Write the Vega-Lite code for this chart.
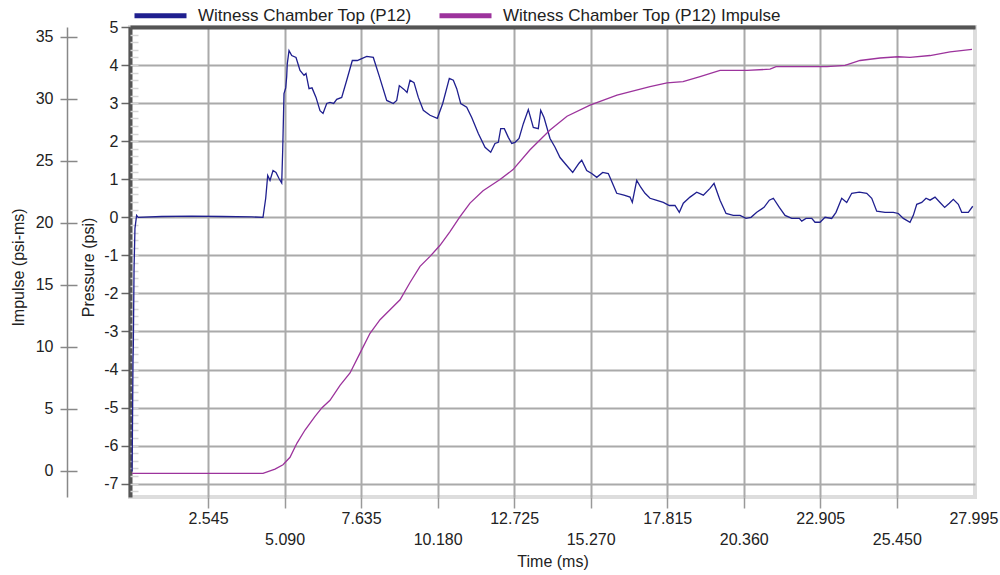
{
  "$schema": "https://vega.github.io/schema/vega-lite/v6.json",
  "width": 845,
  "height": 470,
  "autosize": {"type": "none"},
  "padding": {"left": 130, "top": 27, "right": 25, "bottom": 78},
  "background": "white",
  "config": {
    "font": "Liberation Sans",
    "view": {"stroke": "#dddddd", "strokeWidth": 4},
    "axis": {"labelFont": "Liberation Sans", "titleFont": "Liberation Sans", "labelFontSize": 16, "titleFontSize": 16, "titleFontWeight": "normal", "labelColor": "#222222", "titleColor": "#222222"}
  },
  "datasets": {
    "pressure": [
      {"t": 0.02, "p": -6.68}, {"t": 0.05, "p": -3.75}, {"t": 0.06, "p": -3.4}, {"t": 0.085, "p": -1.34}, {"t": 0.115, "p": -0.29}, {"t": 0.17, "p": 0.05}, {"t": 0.22, "p": 0.0},
      {"t": 1.0, "p": 0.02}, {"t": 2.0, "p": 0.03}, {"t": 3.0, "p": 0.02}, {"t": 4.0, "p": 0.01}, {"t": 4.373, "p": 0.0},
      {"t": 4.463, "p": 0.5}, {"t": 4.529, "p": 1.1}, {"t": 4.606, "p": 0.97}, {"t": 4.706, "p": 1.23}, {"t": 4.805, "p": 1.18}, {"t": 4.905, "p": 1.02}, {"t": 4.995, "p": 0.9},
      {"t": 5.028, "p": 1.76}, {"t": 5.071, "p": 3.25}, {"t": 5.128, "p": 3.4}, {"t": 5.161, "p": 3.7}, {"t": 5.18, "p": 4.03}, {"t": 5.238, "p": 4.38}, {"t": 5.328, "p": 4.25},
      {"t": 5.471, "p": 4.2}, {"t": 5.604, "p": 3.86}, {"t": 5.737, "p": 3.73}, {"t": 5.803, "p": 3.78}, {"t": 5.903, "p": 3.38}, {"t": 6.003, "p": 3.4}, {"t": 6.136, "p": 3.15},
      {"t": 6.269, "p": 2.8}, {"t": 6.369, "p": 2.73}, {"t": 6.492, "p": 2.99}, {"t": 6.601, "p": 3.02}, {"t": 6.724, "p": 2.99}, {"t": 6.824, "p": 3.1}, {"t": 6.99, "p": 3.15},
      {"t": 7.157, "p": 3.6}, {"t": 7.343, "p": 4.12}, {"t": 7.509, "p": 4.12}, {"t": 7.655, "p": 4.17}, {"t": 7.822, "p": 4.23}, {"t": 8.041, "p": 4.2}, {"t": 8.231, "p": 3.73},
      {"t": 8.487, "p": 3.07}, {"t": 8.706, "p": 2.99}, {"t": 8.819, "p": 3.07}, {"t": 8.906, "p": 3.46}, {"t": 9.062, "p": 3.36}, {"t": 9.162, "p": 3.28}, {"t": 9.262, "p": 3.6},
      {"t": 9.395, "p": 3.54}, {"t": 9.538, "p": 3.15}, {"t": 9.704, "p": 2.81}, {"t": 9.927, "p": 2.68}, {"t": 10.17, "p": 2.6}, {"t": 10.349, "p": 2.99}, {"t": 10.569, "p": 3.65},
      {"t": 10.702, "p": 3.6}, {"t": 10.815, "p": 3.38}, {"t": 10.948, "p": 2.99}, {"t": 11.147, "p": 2.89}, {"t": 11.314, "p": 2.62}, {"t": 11.533, "p": 2.2}, {"t": 11.756, "p": 1.84},
      {"t": 11.945, "p": 1.71}, {"t": 12.088, "p": 1.94}, {"t": 12.198, "p": 1.97}, {"t": 12.278, "p": 2.33}, {"t": 12.398, "p": 2.33}, {"t": 12.531, "p": 2.1}, {"t": 12.644, "p": 1.94},
      {"t": 12.754, "p": 1.97}, {"t": 12.887, "p": 2.07}, {"t": 13.03, "p": 2.46}, {"t": 13.196, "p": 2.83}, {"t": 13.362, "p": 2.36}, {"t": 13.528, "p": 2.33}, {"t": 13.608, "p": 2.81},
      {"t": 13.718, "p": 2.62}, {"t": 13.918, "p": 2.07}, {"t": 14.084, "p": 1.84}, {"t": 14.25, "p": 1.57}, {"t": 14.473, "p": 1.36}, {"t": 14.672, "p": 1.18}, {"t": 14.882, "p": 1.42},
      {"t": 14.972, "p": 1.5}, {"t": 15.138, "p": 1.23}, {"t": 15.304, "p": 1.15}, {"t": 15.471, "p": 1.05}, {"t": 15.67, "p": 1.18}, {"t": 15.856, "p": 1.15}, {"t": 16.023, "p": 0.84},
      {"t": 16.136, "p": 0.63}, {"t": 16.378, "p": 0.58}, {"t": 16.578, "p": 0.53}, {"t": 16.654, "p": 0.39}, {"t": 16.801, "p": 0.97}, {"t": 16.934, "p": 0.79}, {"t": 17.077, "p": 0.63},
      {"t": 17.243, "p": 0.5}, {"t": 17.443, "p": 0.45}, {"t": 17.685, "p": 0.39}, {"t": 17.885, "p": 0.31}, {"t": 18.074, "p": 0.31}, {"t": 18.217, "p": 0.13}, {"t": 18.35, "p": 0.37},
      {"t": 18.573, "p": 0.53}, {"t": 18.796, "p": 0.66}, {"t": 19.016, "p": 0.58}, {"t": 19.238, "p": 0.76}, {"t": 19.372, "p": 0.89}, {"t": 19.571, "p": 0.45}, {"t": 19.771, "p": 0.1},
      {"t": 20.013, "p": 0.05}, {"t": 20.236, "p": 0.05}, {"t": 20.436, "p": -0.03}, {"t": 20.602, "p": 0.0}, {"t": 20.792, "p": 0.13}, {"t": 21.034, "p": 0.26}, {"t": 21.211, "p": 0.45},
      {"t": 21.344, "p": 0.5}, {"t": 21.543, "p": 0.26}, {"t": 21.733, "p": 0.05}, {"t": 21.956, "p": -0.03}, {"t": 22.208, "p": -0.03}, {"t": 22.288, "p": -0.1}, {"t": 22.431, "p": -0.03},
      {"t": 22.621, "p": -0.03}, {"t": 22.73, "p": -0.13}, {"t": 22.897, "p": -0.13}, {"t": 23.063, "p": 0.0}, {"t": 23.285, "p": -0.03}, {"t": 23.428, "p": 0.13}, {"t": 23.618, "p": 0.5},
      {"t": 23.784, "p": 0.39}, {"t": 23.951, "p": 0.63}, {"t": 24.204, "p": 0.66}, {"t": 24.45, "p": 0.63}, {"t": 24.616, "p": 0.5}, {"t": 24.782, "p": 0.16}, {"t": 25.058, "p": 0.13},
      {"t": 25.334, "p": 0.13}, {"t": 25.5, "p": 0.1}, {"t": 25.667, "p": -0.03}, {"t": 25.889, "p": -0.13}, {"t": 25.999, "p": 0.05}, {"t": 26.113, "p": 0.34}, {"t": 26.279, "p": 0.39},
      {"t": 26.422, "p": 0.5}, {"t": 26.555, "p": 0.45}, {"t": 26.721, "p": 0.53}, {"t": 26.887, "p": 0.39}, {"t": 27.041, "p": 0.26}, {"t": 27.196, "p": 0.37}, {"t": 27.329, "p": 0.47},
      {"t": 27.495, "p": 0.34}, {"t": 27.609, "p": 0.13}, {"t": 27.828, "p": 0.13}, {"t": 27.975, "p": 0.29}
    ],
    "impulse": [
      {"t": 0.02, "i": -0.2}, {"t": 4.373, "i": -0.2}, {"t": 4.772, "i": 0.15}, {"t": 5.038, "i": 0.5}, {"t": 5.271, "i": 1.1}, {"t": 5.504, "i": 2.25}, {"t": 5.77, "i": 3.3},
      {"t": 6.103, "i": 4.4}, {"t": 6.336, "i": 5.1}, {"t": 6.601, "i": 5.7}, {"t": 6.934, "i": 6.9}, {"t": 7.267, "i": 7.9}, {"t": 7.599, "i": 9.5}, {"t": 7.932, "i": 11.1},
      {"t": 8.265, "i": 12.2}, {"t": 8.597, "i": 13.0}, {"t": 8.93, "i": 13.8}, {"t": 9.262, "i": 15.2}, {"t": 9.595, "i": 16.5}, {"t": 9.927, "i": 17.3}, {"t": 10.26, "i": 18.2},
      {"t": 10.592, "i": 19.3}, {"t": 10.925, "i": 20.5}, {"t": 11.257, "i": 21.6}, {"t": 11.69, "i": 22.6}, {"t": 12.255, "i": 23.5}, {"t": 12.687, "i": 24.3}, {"t": 13.253, "i": 25.9},
      {"t": 13.918, "i": 27.5}, {"t": 14.483, "i": 28.6}, {"t": 15.248, "i": 29.5}, {"t": 16.146, "i": 30.3}, {"t": 17.243, "i": 31.0}, {"t": 17.809, "i": 31.3}, {"t": 18.341, "i": 31.4},
      {"t": 18.907, "i": 31.8}, {"t": 19.571, "i": 32.3}, {"t": 20.469, "i": 32.3}, {"t": 21.234, "i": 32.4}, {"t": 21.434, "i": 32.6}, {"t": 23.129, "i": 32.6}, {"t": 23.728, "i": 32.7},
      {"t": 24.227, "i": 33.1}, {"t": 24.892, "i": 33.3}, {"t": 25.491, "i": 33.4}, {"t": 25.89, "i": 33.35}, {"t": 26.555, "i": 33.5}, {"t": 27.22, "i": 33.8}, {"t": 27.951, "i": 34.0}
    ]
  },
  "layer": [
    {
      "data": {"name": "pressure"},
      "mark": {"type": "line", "strokeWidth": 1.3},
      "encoding": {
        "x": {
          "field": "t", "type": "quantitative",
          "scale": {"domain": [-0.05, 28.05], "nice": false, "zero": false},
          "axis": {
            "orient": "bottom",
            "values": [2.545, 5.09, 7.635, 10.18, 12.725, 15.27, 17.815, 20.36, 22.905, 25.45, 27.995],
            "format": ".3f",
            "grid": true,
            "gridColor": {"condition": {"test": "datum.value > 27", "value": "transparent"}, "value": "#aaaaaa"},
            "gridWidth": 2,
            "domain": false,
            "ticks": true, "tickSize": 11,
            "tickColor": {"condition": {"test": "datum.value > 27", "value": "transparent"}, "value": "#999999"},
            "tickWidth": 1.5,
            "labelPadding": 2, "labelBaseline": "top", "labelLineHeight": 21,
            "labelExpr": "round(datum.value / 2.545) % 2 == 1 ? [datum.label] : ['', datum.label]",
            "labelFlush": false, "labelOverlap": false,
            "title": "Time (ms)", "titlePadding": 6
          }
        },
        "y": {
          "field": "p", "type": "quantitative",
          "scale": {"domain": [-7.35, 5], "nice": false, "zero": false},
          "axis": {
            "orient": "left", "offset": 0,
            "values": [-7, -6, -5, -4, -3, -2, -1, 0, 1, 2, 3, 4, 5],
            "labelExpr": "'' + datum.value",
            "grid": true, "gridColor": "#aaaaaa", "gridWidth": 2,
            "domain": true, "domainColor": "#555555", "domainWidth": 4,
            "ticks": true, "tickSize": 9, "tickColor": "#666666", "tickWidth": 1.5,
            "labelPadding": 3,
            "title": "Pressure (psi)", "titlePadding": 7, "titleY": 240
          }
        },
        "color": {
          "datum": "Witness Chamber Top (P12)", "type": "nominal",
          "scale": {"domain": ["Witness Chamber Top (P12)", "Witness Chamber Top (P12) Impulse"], "range": ["#1f1f8f", "#9c339c"]},
          "legend": {
            "orient": "none", "legendX": 2, "legendY": -40, "direction": "horizontal", "columns": 2,
            "symbolType": "stroke", "symbolSize": 2704, "symbolStrokeWidth": 5,
            "labelFont": "Liberation Sans", "labelFontSize": 17, "labelColor": "#222222", "labelOffset": 9, "labelLimit": 400,
            "columnPadding": 17, "padding": 0, "title": null
          }
        }
      }
    },
    {
      "data": {"name": "impulse"},
      "mark": {"type": "line", "strokeWidth": 1.3},
      "encoding": {
        "x": {"field": "t", "type": "quantitative", "scale": {"domain": [-0.05, 28.05], "nice": false, "zero": false}, "axis": null},
        "y": {
          "field": "i", "type": "quantitative",
          "scale": {"domain": [-2.1, 35.8], "nice": false, "zero": false},
          "axis": {
            "orient": "left", "offset": 53,
            "values": [0, 5, 10, 15, 20, 25, 30, 35],
            "grid": false, "domain": false,
            "ticks": true, "tickSize": 17, "tickColor": "#888888", "tickWidth": 1.5,
            "labelPadding": 7,
            "title": "Impulse (psi-ms)", "titlePadding": 9, "titleY": 240
          }
        },
        "color": {"datum": "Witness Chamber Top (P12) Impulse", "type": "nominal"}
      }
    },
    {
      "data": {"name": "impulse"},
      "mark": {"type": "line", "opacity": 0},
      "encoding": {
        "x": {
          "field": "t", "type": "quantitative", "scale": {"domain": [-0.05, 28.05], "nice": false, "zero": false},
          "axis": {"orient": "top", "domain": true, "domainColor": "#555555", "domainWidth": 4, "ticks": false, "labels": false, "grid": false, "title": null}
        },
        "y": {
          "field": "i", "type": "quantitative",
          "scale": {"domain": [-2.1, 35.8], "nice": false, "zero": false},
          "axis": {"orient": "left", "offset": 63, "domain": true, "domainColor": "#888888", "domainWidth": 1.5, "ticks": false, "labels": false, "grid": false, "title": null}
        }
      }
    },
    {
      "data": {"name": "pressure"},
      "mark": {"type": "line", "opacity": 0},
      "encoding": {
        "x": {"field": "t", "type": "quantitative", "scale": {"domain": [-0.05, 28.05], "nice": false, "zero": false}, "axis": null},
        "y": {
          "field": "p", "type": "quantitative",
          "scale": {"domain": [-7.35, 5], "nice": false, "zero": false},
          "axis": {
            "orient": "left", "offset": 0,
            "values": [-7.2, -7, -6.8, -6.6, -6.4, -6.2, -6, -5.8, -5.6, -5.4, -5.2, -5, -4.8, -4.6, -4.4, -4.2, -4, -3.8, -3.6, -3.4, -3.2, -3, -2.8, -2.6, -2.4, -2.2, -2, -1.8, -1.6, -1.4, -1.2, -1, -0.8, -0.6, -0.4, -0.2, 0, 0.2, 0.4, 0.6, 0.8, 1, 1.2, 1.4, 1.6, 1.8, 2, 2.2, 2.4, 2.6, 2.8, 3, 3.2, 3.4, 3.6, 3.8, 4, 4.2, 4.4, 4.6, 4.8],
            "domain": false, "ticks": true, "tickSize": -8, "tickColor": "#d5d5d5", "tickWidth": 1.5,
            "labels": false, "grid": false, "title": null
          }
        }
      }
    }
  ],
  "resolve": {"scale": {"y": "independent"}, "axis": {"x": "independent", "y": "independent"}}
}
